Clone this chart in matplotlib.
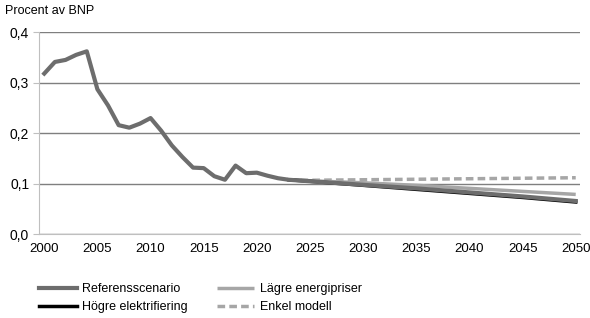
import matplotlib
matplotlib.use("Agg")
import matplotlib.pyplot as plt
from matplotlib.ticker import FuncFormatter

plt.rcParams['font.family'] = ['Liberation Sans', 'DejaVu Sans']

# Referensscenario, historical + projection
ref_years = list(range(2000, 2024)) + [2025, 2030, 2035, 2040, 2045, 2050]
ref_vals = [0.318, 0.341, 0.345, 0.355, 0.362, 0.287, 0.255, 0.216, 0.211, 0.219,
            0.230, 0.205, 0.176, 0.153, 0.132, 0.131, 0.115, 0.108, 0.136, 0.121,
            0.122, 0.116, 0.111, 0.108,
            0.105, 0.098, 0.091, 0.083, 0.075, 0.066]

scen_years = [2023, 2025, 2030, 2035, 2040, 2045, 2050]
lagre = [0.108, 0.106, 0.102, 0.097, 0.091, 0.085, 0.079]
hogre = [0.108, 0.105, 0.097, 0.089, 0.081, 0.073, 0.064]
enkel = [0.108, 0.107, 0.108, 0.109, 0.110, 0.111, 0.112]

fig = plt.figure(figsize=(5.9, 3.18), dpi=100)
ax = fig.add_axes([0.066, 0.263, 0.917, 0.636])

ax.plot(scen_years, lagre, color='#a6a6a6', lw=2.5, label='Lägre energipriser', solid_capstyle='butt')
ax.plot(scen_years, enkel, color='#a6a6a6', lw=2.5, ls=(0, (2.2, 1.2)), label='Enkel modell')
ax.plot(scen_years, hogre, color='#000000', lw=2.5, label='Högre elektrifiering')
ax.plot(ref_years, ref_vals, color='#6d6d6d', lw=3, label='Referensscenario')

ax.set_xlim(1999.5, 2050.4)
ax.set_ylim(0, 0.4)
ax.set_xticks(range(2000, 2051, 5))
ax.set_yticks([0, 0.1, 0.2, 0.3, 0.4])
ax.yaxis.set_major_formatter(FuncFormatter(lambda v, p: f"{v:.1f}".replace('.', ',')))
ax.tick_params(axis='x', length=0, labelsize=9.5, pad=6)
ax.tick_params(axis='y', length=4, color='#bfbfbf', labelsize=10, pad=3)
ax.grid(axis='y', color='#7f7f7f', lw=1)
ax.set_axisbelow(True)
for s in ['top', 'right']:
    ax.spines[s].set_visible(False)
ax.spines['left'].set_color('#bfbfbf')
ax.spines['bottom'].set_color('#bfbfbf')

fig.text(0.008, 0.955, 'Procent av BNP', fontsize=9)

h, l = ax.get_legend_handles_labels()
order = [3, 2, 0, 1]
fig.legend([h[i] for i in order], [l[i] for i in order], ncol=2, frameon=False,
           loc='upper left', bbox_to_anchor=(0.058, 0.125), fontsize=9,
           handlelength=3.0, handletextpad=0.45, columnspacing=2.3, labelspacing=0.45,
           borderaxespad=0)

fig.savefig('out.png', dpi=100)
